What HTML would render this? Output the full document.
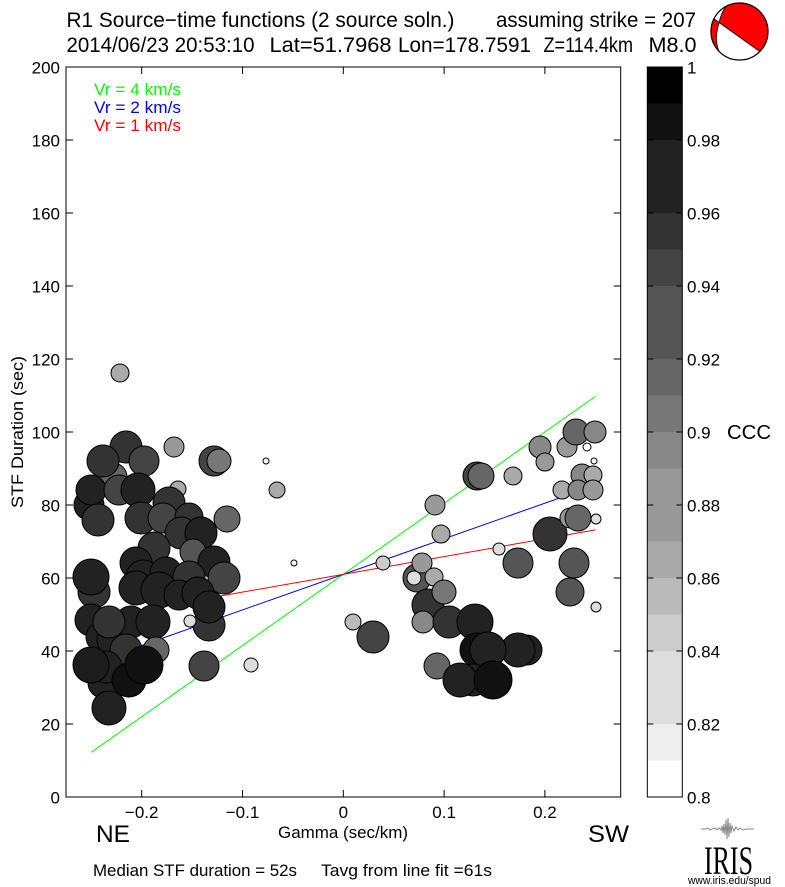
<!DOCTYPE html>
<html><head><meta charset="utf-8"><style>
html,body{margin:0;padding:0;background:#fff;}
svg{display:block;}
text{font-family:"Liberation Sans",Arial,sans-serif;fill:#000;}
</style></head><body>
<svg width="785" height="887" viewBox="0 0 785 887" xmlns="http://www.w3.org/2000/svg">
<rect x="0" y="0" width="785" height="887" fill="#fff"/>
<!-- Titles -->
<text x="66.5" y="27" font-size="21" textLength="388" lengthAdjust="spacingAndGlyphs">R1 Source−time functions (2 source soln.)</text>
<text x="496" y="27" font-size="21" textLength="200" lengthAdjust="spacingAndGlyphs">assuming strike = 207</text>
<text x="66.5" y="52" font-size="21" textLength="188" lengthAdjust="spacingAndGlyphs">2014/06/23 20:53:10</text>
<text x="269.5" y="52" font-size="21" textLength="122" lengthAdjust="spacingAndGlyphs">Lat=51.7968</text>
<text x="398" y="52" font-size="21" textLength="133" lengthAdjust="spacingAndGlyphs">Lon=178.7591</text>
<text x="543.5" y="52" font-size="21" textLength="89.5" lengthAdjust="spacingAndGlyphs">Z=114.4km</text>
<text x="648.5" y="52" font-size="21" textLength="48" lengthAdjust="spacingAndGlyphs">M8.0</text>

<!-- Beachball -->
<defs><clipPath id="bb"><ellipse cx="739" cy="28" rx="28" ry="27"/></clipPath></defs>
<g transform="translate(739.5 31.5) scale(1.018 1.056) translate(-739 -28)">
<ellipse cx="739" cy="28" rx="28" ry="27" fill="#fff"/>
<g clip-path="url(#bb)">
<path d="M726,4 L728,-10 L800,-10 L800,75.3 L719,19.4 Q721,10 726,4 Z" fill="#f00"/>
<path d="M719,19.4 Q715.5,31 716.5,38 Q717.5,44 719,47 L722,62 L700,62 L700,6.4 Z" fill="#f00"/>
<path d="M726,4 Q721,10 719,19.4 Q715.5,31 716.5,38 Q717.5,44 719,47" fill="none" stroke="#000" stroke-width="0.8"/>
<line x1="700" y1="6.4" x2="800" y2="75.3" stroke="#000" stroke-width="0.8"/>
</g>
<ellipse cx="739" cy="28" rx="28" ry="27" fill="none" stroke="#000" stroke-width="1.2"/>
</g>

<!-- Fit lines -->
<line x1="91.3" y1="752.3" x2="595.3" y2="396.4" stroke="#00ff00" stroke-width="1"/>
<line x1="91.3" y1="663.3" x2="595.3" y2="485.4" stroke="#0000ff" stroke-width="1"/>
<line x1="91.3" y1="618.8" x2="595.3" y2="529.9" stroke="#ff0000" stroke-width="1"/>

<!-- Circles -->
<g stroke="#000" stroke-width="1">
<circle cx="120" cy="373" r="9" fill="#aaa"/>
<circle cx="126" cy="447" r="16" fill="#333"/>
<circle cx="144" cy="461" r="15" fill="#444"/>
<circle cx="113" cy="477" r="14" fill="#666"/>
<circle cx="103" cy="461" r="16" fill="#333"/>
<circle cx="174" cy="447" r="10" fill="#999"/>
<circle cx="214" cy="461" r="15" fill="#444"/>
<circle cx="219" cy="461" r="12" fill="#777"/>
<circle cx="266" cy="461" r="3" fill="#fff"/>
<circle cx="89" cy="505" r="15" fill="#222"/>
<circle cx="91" cy="490" r="15" fill="#222"/>
<circle cx="119" cy="490" r="15" fill="#444"/>
<circle cx="138" cy="490" r="17" fill="#222"/>
<circle cx="178" cy="489" r="8" fill="#aaa"/>
<circle cx="98" cy="520" r="16" fill="#333"/>
<circle cx="141" cy="518" r="16" fill="#333"/>
<circle cx="169" cy="503" r="16" fill="#333"/>
<circle cx="163" cy="518" r="15" fill="#444"/>
<circle cx="189" cy="517" r="14" fill="#333"/>
<circle cx="181" cy="533" r="16" fill="#333"/>
<circle cx="201" cy="533" r="16" fill="#222"/>
<circle cx="227" cy="519" r="13" fill="#666"/>
<circle cx="277" cy="490" r="8" fill="#aaa"/>
<circle cx="193" cy="552" r="13" fill="#555"/>
<circle cx="154" cy="548" r="16" fill="#333"/>
<circle cx="136" cy="563" r="16" fill="#222"/>
<circle cx="214" cy="562" r="16" fill="#222"/>
<circle cx="94" cy="592" r="16" fill="#333"/>
<circle cx="91" cy="577" r="18" fill="#222"/>
<circle cx="143" cy="577" r="17" fill="#222"/>
<circle cx="166" cy="573" r="16" fill="#222"/>
<circle cx="189" cy="577" r="16" fill="#333"/>
<circle cx="224" cy="578" r="16" fill="#444"/>
<circle cx="136" cy="588" r="17" fill="#222"/>
<circle cx="159" cy="590" r="18" fill="#222"/>
<circle cx="179" cy="595" r="15" fill="#222"/>
<circle cx="198" cy="593" r="16" fill="#222"/>
<circle cx="209" cy="625" r="16" fill="#333"/>
<circle cx="209" cy="607" r="16" fill="#222"/>
<circle cx="190" cy="621" r="6" fill="#ddd"/>
<circle cx="294" cy="563" r="3" fill="#fff"/>
<circle cx="91" cy="620" r="16" fill="#222"/>
<circle cx="101" cy="637" r="15" fill="#222"/>
<circle cx="113" cy="640" r="16" fill="#222"/>
<circle cx="131" cy="622" r="16" fill="#222"/>
<circle cx="153" cy="622" r="17" fill="#222"/>
<circle cx="109" cy="622" r="16" fill="#333"/>
<circle cx="156" cy="650" r="13" fill="#666"/>
<circle cx="126" cy="650" r="16" fill="#333"/>
<circle cx="103" cy="683" r="15" fill="#222"/>
<circle cx="106" cy="667" r="16" fill="#222"/>
<circle cx="129" cy="680" r="17" fill="#111"/>
<circle cx="144" cy="665" r="19" fill="#111"/>
<circle cx="91" cy="665" r="18" fill="#1c1c1c"/>
<circle cx="109" cy="708" r="17" fill="#222"/>
<circle cx="204" cy="666" r="15" fill="#444"/>
<circle cx="251" cy="665" r="7" fill="#ddd"/>

<circle cx="353" cy="622" r="8" fill="#bbb"/>
<circle cx="373" cy="637" r="16" fill="#444"/>
<circle cx="383" cy="563" r="7" fill="#ccc"/>
<circle cx="417" cy="578" r="14" fill="#555"/>
<circle cx="414" cy="578" r="7" fill="#ddd"/>
<circle cx="422" cy="563" r="10" fill="#999"/>
<circle cx="434" cy="577" r="9" fill="#aaa"/>
<circle cx="428" cy="605" r="16" fill="#333"/>
<circle cx="444" cy="592" r="12" fill="#777"/>
<circle cx="423" cy="622" r="11" fill="#888"/>
<circle cx="449" cy="622" r="16" fill="#333"/>
<circle cx="475" cy="622" r="18" fill="#222"/>
<circle cx="477" cy="650" r="17" fill="#111"/>
<circle cx="527" cy="650" r="15" fill="#222"/>
<circle cx="518" cy="650" r="17" fill="#222"/>
<circle cx="488" cy="650" r="18" fill="#222"/>
<circle cx="437" cy="666" r="13" fill="#666"/>
<circle cx="473" cy="680" r="16" fill="#222"/>
<circle cx="460" cy="680" r="17" fill="#222"/>
<circle cx="493" cy="680" r="19" fill="#111"/>
<circle cx="499" cy="549" r="6" fill="#ddd"/>
<circle cx="518" cy="563" r="15" fill="#555"/>
<circle cx="550" cy="534" r="17" fill="#333"/>
<circle cx="574" cy="563" r="15" fill="#555"/>
<circle cx="570" cy="592" r="14" fill="#555"/>
<circle cx="596" cy="607" r="5" fill="#ddd"/>
<circle cx="441" cy="534" r="9" fill="#aaa"/>
<circle cx="435" cy="505" r="10" fill="#999"/>
<circle cx="477" cy="476" r="14" fill="#444"/>
<circle cx="481" cy="476" r="13" fill="#666"/>
<circle cx="513" cy="476" r="9" fill="#aaa"/>
<circle cx="540" cy="447" r="11" fill="#888"/>
<circle cx="545" cy="462" r="9" fill="#999"/>
<circle cx="567" cy="447" r="10" fill="#999"/>
<circle cx="576" cy="432" r="13" fill="#666"/>
<circle cx="595" cy="432" r="11" fill="#888"/>
<circle cx="587" cy="447" r="4" fill="#fff"/>
<circle cx="594" cy="461" r="3" fill="#fff"/>
<circle cx="582" cy="475" r="11" fill="#888"/>
<circle cx="593" cy="475" r="9" fill="#aaa"/>
<circle cx="562" cy="490" r="9" fill="#aaa"/>
<circle cx="578" cy="490" r="10" fill="#888"/>
<circle cx="593" cy="490" r="10" fill="#999"/>
<circle cx="570" cy="518" r="10" fill="#999"/>
<circle cx="578" cy="518" r="13" fill="#666"/>
<circle cx="596" cy="519" r="5" fill="#ddd"/>
</g>

<!-- Legend -->
<text x="94" y="95" font-size="17" style="fill:#00ff00" textLength="87" lengthAdjust="spacingAndGlyphs">Vr = 4 km/s</text>
<text x="94" y="113" font-size="17" style="fill:#0000ff" textLength="87" lengthAdjust="spacingAndGlyphs">Vr = 2 km/s</text>
<text x="94" y="131" font-size="17" style="fill:#ff0000" textLength="87" lengthAdjust="spacingAndGlyphs">Vr = 1 km/s</text>

<!-- Plot frame & ticks -->
<rect x="66" y="67" width="554.7" height="730" fill="none" stroke="#000" stroke-width="1"/>
<g stroke="#000" stroke-width="1">
<line x1="141.7" y1="797" x2="141.7" y2="790"/><line x1="141.7" y1="67" x2="141.7" y2="74"/>
<line x1="242.5" y1="797" x2="242.5" y2="790"/><line x1="242.5" y1="67" x2="242.5" y2="74"/>
<line x1="343.3" y1="797" x2="343.3" y2="790"/><line x1="343.3" y1="67" x2="343.3" y2="74"/>
<line x1="444.1" y1="797" x2="444.1" y2="790"/><line x1="444.1" y1="67" x2="444.1" y2="74"/>
<line x1="544.9" y1="797" x2="544.9" y2="790"/><line x1="544.9" y1="67" x2="544.9" y2="74"/>
<line x1="66" y1="724" x2="73" y2="724"/><line x1="620.7" y1="724" x2="613.7" y2="724"/>
<line x1="66" y1="651" x2="73" y2="651"/><line x1="620.7" y1="651" x2="613.7" y2="651"/>
<line x1="66" y1="578" x2="73" y2="578"/><line x1="620.7" y1="578" x2="613.7" y2="578"/>
<line x1="66" y1="505" x2="73" y2="505"/><line x1="620.7" y1="505" x2="613.7" y2="505"/>
<line x1="66" y1="432" x2="73" y2="432"/><line x1="620.7" y1="432" x2="613.7" y2="432"/>
<line x1="66" y1="359" x2="73" y2="359"/><line x1="620.7" y1="359" x2="613.7" y2="359"/>
<line x1="66" y1="286" x2="73" y2="286"/><line x1="620.7" y1="286" x2="613.7" y2="286"/>
<line x1="66" y1="213" x2="73" y2="213"/><line x1="620.7" y1="213" x2="613.7" y2="213"/>
<line x1="66" y1="140" x2="73" y2="140"/><line x1="620.7" y1="140" x2="613.7" y2="140"/>
</g>

<!-- Y tick labels -->
<g font-size="17" text-anchor="end">
<text x="60" y="803.5">0</text>
<text x="60" y="730.5">20</text>
<text x="60" y="657.5">40</text>
<text x="60" y="584.5">60</text>
<text x="60" y="511.5">80</text>
<text x="60" y="438.5">100</text>
<text x="60" y="365.5">120</text>
<text x="60" y="292.5">140</text>
<text x="60" y="219.5">160</text>
<text x="60" y="146.5">180</text>
<text x="60" y="73.5">200</text>
</g>
<!-- X tick labels -->
<g font-size="17" text-anchor="middle">
<text x="141.7" y="818">−0.2</text>
<text x="242.5" y="818">−0.1</text>
<text x="343.3" y="818">0</text>
<text x="444.1" y="818">0.1</text>
<text x="544.9" y="818">0.2</text>
</g>
<text x="343" y="838" font-size="16.5" text-anchor="middle" textLength="130" lengthAdjust="spacingAndGlyphs">Gamma (sec/km)</text>
<text x="96" y="842" font-size="24" textLength="34" lengthAdjust="spacingAndGlyphs">NE</text>
<text x="588" y="842" font-size="24" textLength="41" lengthAdjust="spacingAndGlyphs">SW</text>
<text transform="translate(23,432) rotate(-90)" font-size="17" text-anchor="middle" textLength="152" lengthAdjust="spacingAndGlyphs">STF Duration (sec)</text>

<text x="93" y="876" font-size="17" textLength="204" lengthAdjust="spacingAndGlyphs">Median STF duration = 52s</text>
<text x="321" y="876" font-size="17" textLength="171" lengthAdjust="spacingAndGlyphs">Tavg from line fit =61s</text>

<!-- Colorbar -->
<g>
<rect x="647.3" y="67" width="35" height="36.5" fill="#000"/>
<rect x="647.3" y="103.5" width="35" height="36.5" fill="#111"/>
<rect x="647.3" y="140" width="35" height="36.5" fill="#222"/>
<rect x="647.3" y="176.5" width="35" height="36.5" fill="#222"/>
<rect x="647.3" y="213" width="35" height="36.5" fill="#333"/>
<rect x="647.3" y="249.5" width="35" height="36.5" fill="#444"/>
<rect x="647.3" y="286" width="35" height="36.5" fill="#555"/>
<rect x="647.3" y="322.5" width="35" height="36.5" fill="#555"/>
<rect x="647.3" y="359" width="35" height="36.5" fill="#666"/>
<rect x="647.3" y="395.5" width="35" height="36.5" fill="#777"/>
<rect x="647.3" y="432" width="35" height="36.5" fill="#888"/>
<rect x="647.3" y="468.5" width="35" height="36.5" fill="#999"/>
<rect x="647.3" y="505" width="35" height="36.5" fill="#999"/>
<rect x="647.3" y="541.5" width="35" height="36.5" fill="#aaa"/>
<rect x="647.3" y="578" width="35" height="36.5" fill="#bbb"/>
<rect x="647.3" y="614.5" width="35" height="36.5" fill="#ccc"/>
<rect x="647.3" y="651" width="35" height="36.5" fill="#ddd"/>
<rect x="647.3" y="687.5" width="35" height="36.5" fill="#ddd"/>
<rect x="647.3" y="724" width="35" height="36.5" fill="#eee"/>
<rect x="647.3" y="760.5" width="35" height="36.5" fill="#fff"/>
</g>
<rect x="647.3" y="67" width="35" height="730" fill="none" stroke="#000" stroke-width="1"/>
<g stroke="#000" stroke-width="1">
<line x1="647.3" y1="140" x2="653.3" y2="140"/><line x1="682.3" y1="140" x2="676.3" y2="140"/>
<line x1="647.3" y1="213" x2="653.3" y2="213"/><line x1="682.3" y1="213" x2="676.3" y2="213"/>
<line x1="647.3" y1="286" x2="653.3" y2="286"/><line x1="682.3" y1="286" x2="676.3" y2="286"/>
<line x1="647.3" y1="359" x2="653.3" y2="359"/><line x1="682.3" y1="359" x2="676.3" y2="359"/>
<line x1="647.3" y1="432" x2="653.3" y2="432"/><line x1="682.3" y1="432" x2="676.3" y2="432"/>
<line x1="647.3" y1="505" x2="653.3" y2="505"/><line x1="682.3" y1="505" x2="676.3" y2="505"/>
<line x1="647.3" y1="578" x2="653.3" y2="578"/><line x1="682.3" y1="578" x2="676.3" y2="578"/>
<line x1="647.3" y1="651" x2="653.3" y2="651"/><line x1="682.3" y1="651" x2="676.3" y2="651"/>
<line x1="647.3" y1="724" x2="653.3" y2="724"/><line x1="682.3" y1="724" x2="676.3" y2="724"/>
</g>
<g font-size="17">
<text x="687" y="73.5">1</text>
<text x="687" y="146.5">0.98</text>
<text x="687" y="219.5">0.96</text>
<text x="687" y="292.5">0.94</text>
<text x="687" y="365.5">0.92</text>
<text x="687" y="438.5">0.9</text>
<text x="687" y="511.5">0.88</text>
<text x="687" y="584.5">0.86</text>
<text x="687" y="657.5">0.84</text>
<text x="687" y="730.5">0.82</text>
<text x="687" y="803.5">0.8</text>
</g>
<text x="727" y="439" font-size="20" textLength="44" lengthAdjust="spacingAndGlyphs">CCC</text>

<!-- IRIS logo -->
<polyline points="701,829 706,829 708,828 710,830 712,829 715,828 717,830 719,828 721,830 722,826 723,833 724,824 725,835 726,820 727,839 728,818 729,837 730,823 731,833 732,826 734,831 736,827 738,830 740,828 743,830 746,829 750,829 754,829" fill="none" stroke="#888" stroke-width="1"/>
<text x="704" y="874" font-size="40" style="font-family:'Liberation Serif',serif" textLength="49" lengthAdjust="spacingAndGlyphs">IRIS</text>
<text x="688" y="884" font-size="11" textLength="83" lengthAdjust="spacingAndGlyphs">www.iris.edu/spud</text>
</svg>
</body></html>
